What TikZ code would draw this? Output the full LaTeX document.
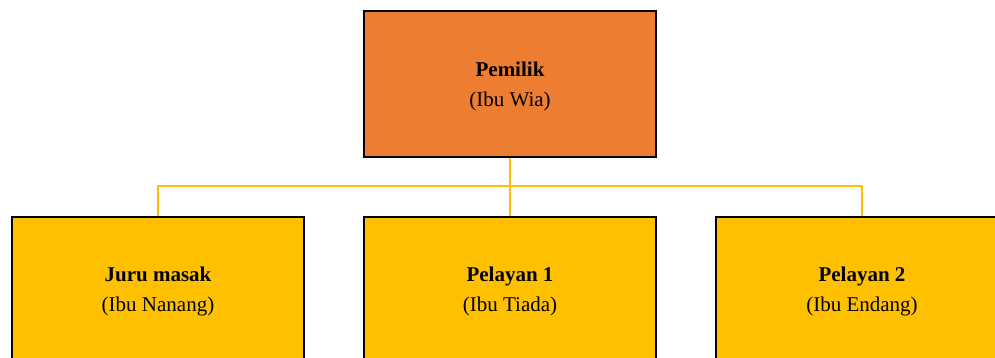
\documentclass[tikz,border=0pt]{standalone}
\usepackage{fontspec}
\setmainfont{Liberation Serif}
\definecolor{ownerfill}{HTML}{ED7D31}
\definecolor{stafffill}{HTML}{FFC000}
\definecolor{linkcol}{HTML}{FFC000}
\begin{document}
\begin{tikzpicture}[x=1pt,y=-1pt,
  orgbox/.style={draw=black, line width=1.5pt, rectangle, minimum width=292pt, minimum height=146pt,
    inner sep=0pt},
  orglabel/.style={align=center, font=\fontsize{21}{30}\selectfont, inner sep=0pt},
  link/.style={draw=linkcol, line width=2pt}]
\useasboundingbox (0,0) rectangle (995,358);
\clip (0,0) rectangle (995,358);
\node[orgbox, fill=ownerfill] (owner) at (510,84) {};
\node[orgbox, fill=stafffill] (cook) at (158,290) {};
\node[orgbox, fill=stafffill] (waiter1) at (510,290) {};
\node[orgbox, fill=stafffill] (waiter2) at (862,290) {};
\node[orglabel] (ownerlbl) at ([yshift=-2pt]owner.center) {\textbf{Pemilik}\\(Ibu Wia)};
\node[orglabel] (cooklbl) at ([yshift=-1pt]cook.center) {\textbf{Juru masak}\\(Ibu Nanang)};
\node[orglabel] (waiter1lbl) at ([yshift=-1pt]waiter1.center) {\textbf{Pelayan 1}\\(Ibu Tiada)};
\node[orglabel] (waiter2lbl) at ([yshift=-1pt]waiter2.center) {\textbf{Pelayan 2}\\(Ibu Endang)};
\coordinate (bus) at (510,186.5);
\draw[link] (owner.south) -- (waiter1.north);
\draw[link] (bus) -| (cook.north);
\draw[link] (bus) -| (waiter2.north);
\end{tikzpicture}
\end{document}
